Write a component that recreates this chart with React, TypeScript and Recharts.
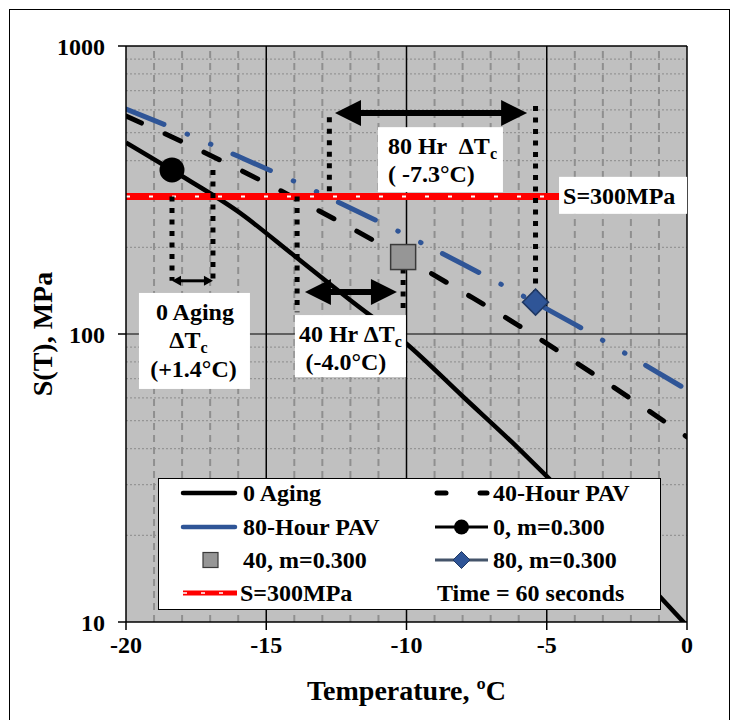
import React from 'react';
import {
  ComposedChart,
  Line,
  Scatter,
  XAxis,
  YAxis,
  CartesianGrid,
  ReferenceLine,
  ReferenceDot,
  Legend,
} from 'recharts';

const FONT = "'Liberation Serif', 'Times New Roman', serif";

// ---- data ----
const temps = [-20, -18, -16, -14, -12, -10, -8, -6, -4, -2, 0];
const aging0 = [462, 353, 266, 187, 131, 92.5, 60.8, 40.0, 25.5, 15.7, 9.7];
const pav40 = [571, 465, 374, 297, 234, 182, 140, 107, 80.1, 59.6, 43.9];
const pav80 = [604, 503, 414, 339, 274, 220, 175, 138, 108, 83.4, 64];
const criterionS = 300;
const xTicks = [-20, -15, -10, -5, 0];
const yTicks = [10, 100, 1000];

// m = 0.300 critical points (temperature, stiffness)
const mTemps = [-18.36, -10.12, -5.4];
const mStiff = [371, 185, 129];
// temperature where S = 300 MPa
const sTemps = [-16.9, -13.9, -12.75];

// grid
const minorT = [-19, -18, -17, -16, -14, -13, -12, -11, -9, -8, -7, -6, -4, -3, -2, -1];
const majorT = [-15, -10, -5];
const minorS = [20, 30, 40, 50, 60, 70, 80, 90, 200, 300, 400, 500, 600, 700, 800, 900];

// annotation geometry (data units)
const arrowLevel = [153, 140, 585];
const arrowFrom = [-18.36, -13.62, -12.55];
const arrowTo = [-16.9, -10.34, -5.7];
const dottedS = [
  [mStiff[0], arrowLevel[0], criterionS, arrowLevel[0]],
  [criterionS, 119, mStiff[1], 123],
  [566, criterionS, 619, mStiff[2]],
];

const toRows = (vals: number[]) => temps.map((t, i) => ({ t, s: vals[i] }));
const rows0 = toRows(aging0);
const rows40 = toRows(pav40);
const rows80 = toRows(pav80);
const rowsS = [
  { t: -20, s: criterionS },
  { t: 0, s: criterionS },
];

const BLUE = '#2F5597';
const txt = { fontFamily: FONT, fontWeight: 700, fontSize: 24, fill: '#000' } as any;

const arrowShape = (head: number, half: number, w: number) => (props: any) => {
  const { x1, x2, y1 } = props;
  const xa = Math.min(x1, x2);
  const xb = Math.max(x1, x2);
  const y = y1;
  return (
    <g>
      <line x1={xa + head - 1} x2={xb - head + 1} y1={y} y2={y} stroke="#000" strokeWidth={w} />
      <polygon points={`${xa},${y} ${xa + head},${y - half} ${xa + head},${y + half}`} fill="#000" />
      <polygon points={`${xb},${y} ${xb - head},${y - half} ${xb - head},${y + half}`} fill="#000" />
    </g>
  );
};

const Sub = () => (
  <tspan fontSize={16} dy={5}>
    c
  </tspan>
);

const boxA = (p: any) => {
  const { cx, cy } = p;
  return (
    <g>
      <rect x={cx - 55.5} y={cy - 48} width={111} height={96} fill="#fff" />
      <text {...txt} x={cx + 0.5} y={cy - 21} textAnchor="middle">0 Aging</text>
      <text {...txt} x={cx - 6} y={cy + 7} textAnchor="middle">ΔT<Sub /></text>
      <text {...txt} x={cx - 1} y={cy + 36} textAnchor="middle">(+1.4°C)</text>
    </g>
  );
};
const boxB = (p: any) => {
  const { cx, cy } = p;
  return (
    <g>
      <rect x={cx - 55.5} y={cy - 31} width={111} height={62} fill="#fff" />
      <text {...txt} x={cx - 51.5} y={cy - 4}>40 Hr ΔT<Sub /></text>
      <text {...txt} x={cx - 4.5} y={cy + 24} textAnchor="middle">(-4.0°C)</text>
    </g>
  );
};
const boxC = (p: any) => {
  const { cx, cy } = p;
  return (
    <g>
      <rect x={cx - 62.5} y={cy - 32.5} width={125} height={65} fill="#fff" />
      <text {...txt} x={cx - 52.5} y={cy - 5.5} style={{ whiteSpace: 'pre' }}>80 Hr  ΔT<Sub /></text>
      <text {...txt} x={cx - 52.5} y={cy + 22.5} style={{ whiteSpace: 'pre' }}>( -7.3°C)</text>
    </g>
  );
};
const boxD = (p: any) => {
  const { cx, cy } = p;
  return (
    <g>
      <rect x={cx - 64} y={cy - 18.5} width={128} height={37} fill="#fff" />
      <text {...txt} x={cx - 60} y={cy + 8.5}>S=300MPa</text>
    </g>
  );
};

const circleShape = (p: any) => <circle cx={p.cx} cy={p.cy} r={12.5} fill="#000" />;
const squareShape = (p: any) => (
  <rect x={p.cx - 12.5} y={p.cy - 12.5} width={25} height={25} fill="#969696" stroke="#3a3a3a" strokeWidth={1.5} />
);
const diamondShape = (p: any) => (
  <polygon
    points={`${p.cx},${p.cy - 13} ${p.cx + 13},${p.cy} ${p.cx},${p.cy + 13} ${p.cx - 13},${p.cy}`}
    fill={BLUE}
    stroke="#1F3864"
    strokeWidth={1.5}
  />
);

const LegendBox = () => {
  const rowsY = [15, 49, 82, 115];
  const t = (x: number, y: number, s: string) => (
    <text {...txt} x={x} y={y + 8}>
      {s}
    </text>
  );
  return (
    <div
      style={{
        width: 503,
        height: 132,
        boxSizing: 'border-box',
        border: '1.5px solid #000',
        background: '#fff',
      }}
    >
      <svg width={500} height={129} style={{ display: 'block', marginLeft: -1.5, marginTop: -1.5 }}>
        <line x1={25} x2={77} y1={rowsY[0]} y2={rowsY[0]} stroke="#000" strokeWidth={4.5} strokeLinecap="round" />
        {t(85, rowsY[0], '0 Aging')}
        <line x1={279} x2={288} y1={rowsY[0]} y2={rowsY[0]} stroke="#000" strokeWidth={5} strokeLinecap="round" />
        <line x1={322} x2={329} y1={rowsY[0]} y2={rowsY[0]} stroke="#000" strokeWidth={5} strokeLinecap="round" />
        {t(335, rowsY[0], '40-Hour PAV')}
        <line x1={25} x2={77} y1={rowsY[1]} y2={rowsY[1]} stroke={BLUE} strokeWidth={4.5} strokeLinecap="round" />
        {t(85, rowsY[1], '80-Hour PAV')}
        <line x1={277} x2={330} y1={rowsY[1]} y2={rowsY[1]} stroke="#000" strokeWidth={3} />
        <circle cx={303.5} cy={rowsY[1]} r={7.5} fill="#000" />
        {t(335, rowsY[1], '0, m=0.300')}
        <rect x={45} y={rowsY[2] - 7.5} width={15} height={15} fill="#969696" stroke="#3a3a3a" strokeWidth={1.2} />
        {t(85, rowsY[2], '40, m=0.300')}
        <line x1={277} x2={330} y1={rowsY[2]} y2={rowsY[2]} stroke="#44546A" strokeWidth={3} />
        <polygon
          points={`303.5,${rowsY[2] - 8.5} 312,${rowsY[2]} 303.5,${rowsY[2] + 8.5} 295,${rowsY[2]}`}
          fill={BLUE}
          stroke="#1F3864"
          strokeWidth={1}
        />
        {t(335, rowsY[2], '80, m=0.300')}
        <line x1={25} x2={79} y1={rowsY[3]} y2={rowsY[3]} stroke="#ff0000" strokeWidth={5} />
        <line x1={25} x2={79} y1={rowsY[3]} y2={rowsY[3]} stroke="#fff" strokeWidth={1.5} strokeDasharray="4 14" />
        {t(82, rowsY[3], 'S=300MPa')}
        {t(279, rowsY[3], 'Time = 60 seconds')}
      </svg>
    </div>
  );
};

export default function App() {
  return (
    <div style={{ position: 'relative', width: 724, height: 712, overflow: 'hidden' }}>
      <div
        style={{
          position: 'absolute',
          left: 1,
          top: 1,
          width: 721,
          height: 760,
          border: '1px solid #000',
          boxSizing: 'border-box',
        }}
      />
      <div style={{ position: 'absolute', left: 0, top: 0 }}>
        <ComposedChart width={724} height={712} margin={{ top: 38, right: 45, bottom: 0, left: 0 }}>
          <CartesianGrid fill="#C0C0C0" horizontal={false} vertical={false} />
          <XAxis
            type="number"
            dataKey="t"
            domain={[-20, 0]}
            ticks={xTicks}
            interval={0}
            allowDataOverflow
            height={98}
            tickSize={8}
            tickMargin={6}
            axisLine={{ stroke: '#000', strokeWidth: 1.5 }}
            tickLine={{ stroke: '#000', strokeWidth: 1.5 }}
            tick={txt}
            label={{
              content: (p: any) => {
                const vb = p.viewBox;
                return (
                  <text
                    {...txt}
                    fontSize={28}
                    x={vb.x + vb.width / 2}
                    y={682}
                    textAnchor="middle"
                    dominantBaseline="central"
                  >
                    Temperature, ºC
                  </text>
                );
              },
            }}
          />
          <YAxis
            type="number"
            dataKey="s"
            scale="log"
            domain={[10, 1000]}
            ticks={yTicks}
            interval={0}
            allowDataOverflow
            width={118}
            tickSize={8}
            tickMargin={13}
            axisLine={{ stroke: '#000', strokeWidth: 1.5 }}
            tickLine={{ stroke: '#000', strokeWidth: 1.5 }}
            tick={txt}
            label={{
              content: (p: any) => {
                const vb = p.viewBox;
                const cx = 34;
                const cy = vb.y + vb.height / 2;
                return (
                  <text
                    {...txt}
                    fontSize={28}
                    x={cx}
                    y={cy}
                    textAnchor="middle"
                    dominantBaseline="central"
                    transform={`rotate(-90, ${cx}, ${cy})`}
                  >
                    S(T), MPa
                  </text>
                );
              },
            }}
          />
          {minorS.map((v) => (
            <ReferenceLine key={'hs' + v} y={v} stroke="#959595" strokeWidth={1.2} strokeDasharray="2 2" />
          ))}
          {minorT.map((v) => (
            <ReferenceLine key={'vt' + v} x={v} stroke="#8f8f8f" strokeWidth={2} strokeDasharray="7 5" />
          ))}
          {majorT.map((v) => (
            <ReferenceLine key={'mt' + v} x={v} stroke="#000" strokeWidth={1.5} />
          ))}
          <ReferenceLine y={100} stroke="#000" strokeWidth={1.2} />
          <ReferenceLine y={1000} stroke="#000" strokeWidth={1.5} />
          <ReferenceLine x={0} stroke="#000" strokeWidth={1.5} />

          <Line data={rows0} dataKey="s" stroke="#000" strokeWidth={4.5} dot={false} type="monotone" isAnimationActive={false} />
          <Line
            data={rows40}
            dataKey="s"
            stroke="#000"
            strokeWidth={5}
            strokeDasharray="17 26"
            strokeLinecap="round"
            dot={false}
            type="monotone"
            isAnimationActive={false}
          />
          <Line
            data={rows80}
            dataKey="s"
            stroke={BLUE}
            strokeWidth={5}
            strokeDasharray="41 25 0.5 25 0.5 24"
            strokeLinecap="round"
            dot={false}
            type="monotone"
            isAnimationActive={false}
          />
          <Line data={rowsS} dataKey="s" stroke="#ff0000" strokeWidth={7} dot={false} isAnimationActive={false} />
          <Line
            data={rowsS}
            dataKey="s"
            stroke="#ffffff"
            strokeWidth={2}
            strokeDasharray="4 19"
            dot={false}
            isAnimationActive={false}
          />

          {dottedS.map((d, i) => (
            <ReferenceLine
              key={'da' + i}
              segment={[
                { x: sTemps[i], y: d[0] },
                { x: sTemps[i], y: d[1] },
              ]}
              stroke="#000"
              strokeWidth={5}
              strokeDasharray="5 6.5"
            />
          ))}
          {dottedS.map((d, i) => (
            <ReferenceLine
              key={'db' + i}
              segment={[
                { x: mTemps[i], y: d[2] },
                { x: mTemps[i], y: d[3] },
              ]}
              stroke="#000"
              strokeWidth={5}
              strokeDasharray="5 6.5"
            />
          ))}
          {arrowLevel.map((lv, i) => (
            <ReferenceLine
              key={'ar' + i}
              segment={[
                { x: arrowFrom[i], y: lv },
                { x: arrowTo[i], y: lv },
              ]}
              shape={i === 0 ? arrowShape(9, 5, 3) : arrowShape(26, 13, 6)}
            />
          ))}

          <Scatter data={[{ t: mTemps[0], s: mStiff[0] }]} dataKey="s" shape={circleShape} isAnimationActive={false} />
          <Scatter data={[{ t: mTemps[1], s: mStiff[1] }]} dataKey="s" shape={squareShape} isAnimationActive={false} />
          <Scatter data={[{ t: mTemps[2], s: mStiff[2] }]} dataKey="s" shape={diamondShape} isAnimationActive={false} />

          <ReferenceDot x={-17.56} y={94.6} r={1} shape={boxA} />
          <ReferenceDot x={-12.0} y={90.8} r={1} shape={boxB} />
          <ReferenceDot x={-8.79} y={403} r={1} shape={boxC} />
          <ReferenceDot x={-2.28} y={303} r={1} shape={boxD} />

          <Legend
            layout="vertical"
            align="center"
            verticalAlign="middle"
            content={() => <LegendBox />}
            wrapperStyle={{ left: 150, top: 470, width: 503, height: 132 }}
          />
        </ComposedChart>
      </div>
    </div>
  );
}
